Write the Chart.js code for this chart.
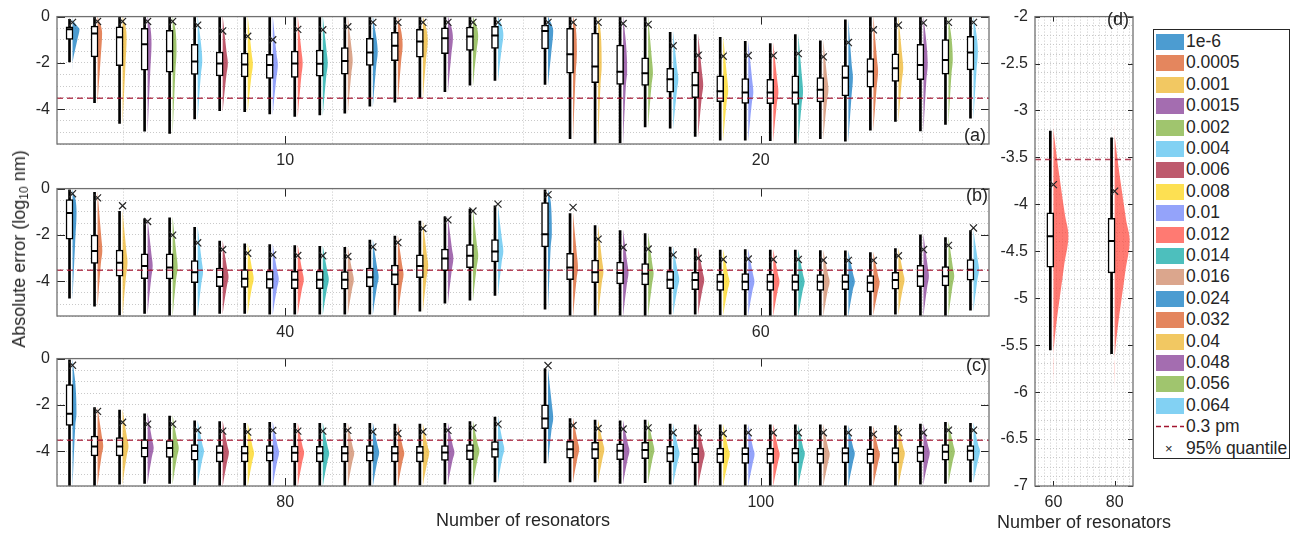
<!DOCTYPE html>
<html>
<head>
<meta charset="utf-8">
<script src="https://cdn.jsdelivr.net/npm/chart.js@4.4.1/dist/chart.umd.min.js"></script>
<style>
html,body{margin:0;padding:0;background:#fff;}
#fig{position:relative;width:1296px;height:533px;overflow:hidden;font-family:'Liberation Sans',Arial,Helvetica,sans-serif;color:#262626;background:#fff;}
#fig canvas{position:absolute;}
.tag{position:absolute;font-size:18px;line-height:18px;white-space:nowrap;z-index:3;}
#ylab{position:absolute;left:19px;top:249px;transform:translate(-50%,-50%) rotate(-90deg);white-space:nowrap;font-size:18px;line-height:20px;z-index:3;}
#ylab sub{font-size:12px;vertical-align:-3px;line-height:0;}
#xlabD{position:absolute;left:1084px;top:522px;transform:translate(-50%,-50%);white-space:nowrap;font-size:18px;line-height:20px;z-index:3;}
#legend{position:absolute;left:1153px;top:29px;width:135px;height:428px;border:1px solid #262626;background:#fff;z-index:4;font-size:17.5px;}
.lrow{position:absolute;left:0;height:21.4px;width:135px;}
.lpatch{position:absolute;left:2px;top:3px;width:28px;height:16px;}
.ltext{position:absolute;left:32px;top:0;line-height:21.4px;white-space:nowrap;}
</style>
</head>
<body>
<div id="fig">
  <canvas id="cA" width="1000" height="170" style="left:0;top:0"></canvas>
  <canvas id="cB" width="1000" height="170" style="left:0;top:172px"></canvas>
  <canvas id="cC" width="1000" height="191" style="left:0;top:342px"></canvas>
  <canvas id="cD" width="200" height="533" style="left:990px;top:0"></canvas>
  <div id="ylab">Absolute error (log<sub>10</sub> nm)</div>
  <div id="xlabD"></div>
  <div class="tag" style="left:964px;top:126px">(a)</div>
  <div class="tag" style="left:966px;top:186px">(b)</div>
  <div class="tag" style="left:966px;top:356px">(c)</div>
  <div class="tag" style="left:1107px;top:10px">(d)</div>
  <div id="legend"></div>
</div>
<script>
// ---------------- DATA ----------------
const sigmaLabels = ['1e-6','0.0005','0.001','0.0015','0.002','0.004','0.006','0.008','0.01','0.012','0.014','0.016','0.024','0.032','0.04','0.048','0.056','0.064'];
const thresholdLabel = '0.3 pm';
const thresholdPm = 0.3;
const quantileLabel = '95% quantile';
const xTitle = 'Number of resonators';

// number of resonators per panel
const nA = [10, 20];
const nB = [40, 60];
const nC = [80, 100];
const nD = [60, 80];
const dSigma = '0.012';

// tick labels
const xTicksA = [10, 20];
const xTicksB = [40, 60];
const xTicksC = [80, 100];
const xTicksD = [60, 80];
const yTicksABC = [0, -2, -4];
const yTicksD = [-2, -2.5, -3, -3.5, -4, -4.5, -5, -5.5, -6, -6.5, -7];

// panel (a) N=10
const a10_q3  = [-0.44,-0.41,-0.44,-0.51,-0.59,-1.20,-1.53,-1.57,-1.63,-1.49,-1.45,-1.34,-0.94,-0.68,-0.55,-0.49,-0.45,-0.42];
const a10_med = [-0.55,-0.73,-0.89,-1.19,-1.50,-1.94,-2.03,-2.07,-2.09,-2.03,-2.04,-1.92,-1.55,-1.26,-1.07,-0.93,-0.86,-0.82];
const a10_q1  = [-0.99,-1.74,-2.12,-2.31,-2.40,-2.50,-2.56,-2.60,-2.67,-2.63,-2.57,-2.49,-2.11,-1.90,-1.75,-1.60,-1.46,-1.37];
const a10_lo  = [-1.96,-3.72,-4.61,-4.95,-5.04,-4.42,-4.06,-4.10,-4.20,-4.31,-4.24,-4.17,-3.87,-3.69,-3.52,-3.24,-2.96,-2.76];
const a10_hi  = [-0.12,0,0,0,0,0,0,0,0,0,0,0,0,0,0,0,0,0];
const a10_p95 = [-0.25,-0.21,-0.21,-0.21,-0.21,-0.37,-0.62,-0.85,-1.00,-0.55,-0.57,-0.44,-0.25,-0.25,-0.25,-0.25,-0.25,-0.25];
// panel (a) N=20
const a20_q3  = [-0.37,-0.51,-0.71,-1.23,-1.78,-2.23,-2.40,-2.56,-2.68,-2.71,-2.56,-2.63,-2.11,-1.81,-1.61,-1.20,-0.99,-0.85];
const a20_med = [-0.62,-1.62,-2.15,-2.38,-2.45,-2.71,-2.96,-3.22,-3.28,-3.28,-3.28,-3.16,-2.64,-2.37,-2.23,-2.09,-1.87,-1.55];
const a20_q1  = [-1.40,-2.44,-2.85,-2.93,-2.97,-3.26,-3.50,-3.67,-3.75,-3.76,-3.79,-3.68,-3.42,-3.05,-2.80,-2.72,-2.48,-2.30];
const a20_lo  = [-2.93,-5.27,-5.50,-5.45,-4.76,-4.82,-5.17,-5.34,-5.34,-5.36,-5.50,-5.27,-5.38,-4.90,-4.52,-4.93,-4.65,-4.38];
const a20_hi  = [0,0,0,0,0,-0.68,-0.78,-0.90,-1.07,-1.16,-0.78,-1.05,-0.14,0,0,0,0,0];
const a20_p95 = [-0.25,-0.25,-0.25,-0.30,-0.34,-1.26,-1.67,-1.71,-1.68,-1.68,-1.60,-1.74,-1.12,-0.57,-0.37,-0.27,-0.25,-0.25];
// panel (b) N=40
const b40_q3  = [-0.47,-2.01,-2.65,-2.82,-2.82,-3.11,-3.43,-3.50,-3.56,-3.57,-3.56,-3.58,-3.43,-3.30,-2.86,-2.61,-2.42,-2.20];
const b40_med = [-1.05,-2.69,-3.20,-3.34,-3.41,-3.61,-3.82,-3.89,-3.91,-3.93,-3.93,-3.93,-3.83,-3.71,-3.34,-3.02,-2.90,-2.72];
const b40_q1  = [-2.18,-3.23,-3.78,-3.89,-3.90,-4.06,-4.23,-4.27,-4.31,-4.32,-4.32,-4.34,-4.24,-4.16,-3.84,-3.54,-3.41,-3.17];
const b40_lo  = [-4.73,-5.08,-5.46,-5.39,-5.50,-5.50,-5.39,-5.39,-5.42,-5.42,-5.42,-5.42,-5.42,-5.46,-5.29,-4.95,-4.82,-4.61];
const b40_hi  = [-0.05,-0.16,-0.98,-1.30,-1.26,-1.67,-2.27,-2.38,-2.42,-2.46,-2.49,-2.54,-2.22,-2.05,-1.40,-1.22,-0.88,-0.74];
const b40_p95 = [-0.22,-0.40,-0.74,-1.42,-2.01,-2.34,-2.63,-2.79,-2.86,-2.89,-2.90,-2.93,-2.52,-2.33,-1.72,-1.35,-0.97,-0.67];
// panel (b) N=60
const b60_q3  = [-0.60,-2.79,-3.09,-3.17,-3.24,-3.57,-3.61,-3.69,-3.67,-3.69,-3.71,-3.71,-3.71,-3.75,-3.61,-3.31,-3.37,-3.06];
const b60_med = [-1.97,-3.41,-3.61,-3.64,-3.68,-3.93,-3.95,-4.02,-4.02,-4.02,-4.02,-4.02,-4.02,-4.06,-3.95,-3.78,-3.78,-3.50];
const b60_q1  = [-2.52,-3.93,-4.06,-4.12,-4.16,-4.32,-4.36,-4.40,-4.39,-4.40,-4.40,-4.40,-4.36,-4.46,-4.34,-4.23,-4.20,-3.95];
const b60_lo  = [-5.21,-5.50,-5.50,-5.50,-5.50,-5.42,-5.42,-5.46,-5.46,-5.50,-5.50,-5.50,-5.50,-5.46,-5.42,-5.50,-5.50,-5.25];
const b60_hi  = [-0.05,-1.08,-1.60,-1.81,-1.94,-2.52,-2.59,-2.65,-2.63,-2.65,-2.65,-2.68,-2.69,-2.76,-2.59,-2.00,-2.11,-1.81];
const b60_p95 = [-0.26,-0.81,-2.18,-2.54,-2.61,-2.86,-3.01,-3.06,-3.04,-3.06,-3.06,-3.09,-3.10,-3.10,-2.90,-2.63,-2.45,-1.70];
// panel (c) N=80
const c80_q3  = [-1.12,-3.34,-3.41,-3.50,-3.54,-3.71,-3.75,-3.78,-3.75,-3.78,-3.79,-3.79,-3.75,-3.79,-3.79,-3.75,-3.71,-3.58];
const c80_med = [-2.38,-3.79,-3.79,-3.86,-3.86,-3.99,-4.06,-4.09,-4.06,-4.06,-4.09,-4.09,-4.06,-4.09,-4.06,-4.05,-3.98,-3.91];
const c80_q1  = [-2.89,-4.20,-4.20,-4.25,-4.27,-4.39,-4.46,-4.46,-4.43,-4.46,-4.46,-4.46,-4.43,-4.46,-4.46,-4.40,-4.36,-4.27];
const c80_lo  = [-5.50,-5.50,-5.42,-5.39,-5.39,-5.46,-5.50,-5.50,-5.50,-5.50,-5.50,-5.50,-5.50,-5.50,-5.46,-5.42,-5.42,-5.32];
const c80_hi  = [-0.05,-2.11,-2.22,-2.38,-2.48,-2.69,-2.72,-2.79,-2.75,-2.79,-2.79,-2.79,-2.79,-2.83,-2.83,-2.79,-2.72,-2.52];
const c80_p95 = [-0.29,-2.28,-2.75,-2.83,-2.83,-3.09,-3.13,-3.17,-3.10,-3.13,-3.13,-3.10,-3.16,-3.23,-3.16,-3.10,-2.99,-2.83];
// panel (c) N=100
const c100_q3  = [-2.00,-3.57,-3.61,-3.68,-3.61,-3.79,-3.84,-3.86,-3.84,-3.86,-3.86,-3.86,-3.84,-3.89,-3.84,-3.78,-3.71,-3.75];
const c100_med = [-2.59,-3.91,-3.91,-3.98,-3.95,-4.09,-4.12,-4.12,-4.12,-4.12,-4.09,-4.12,-4.09,-4.12,-4.09,-4.06,-4.02,-3.98];
const c100_q1  = [-3.02,-4.30,-4.32,-4.36,-4.32,-4.46,-4.50,-4.50,-4.53,-4.53,-4.50,-4.53,-4.50,-4.53,-4.50,-4.46,-4.39,-4.40];
const c100_lo  = [-4.50,-5.32,-5.32,-5.39,-5.36,-5.42,-5.50,-5.50,-5.50,-5.50,-5.50,-5.50,-5.50,-5.50,-5.50,-5.42,-5.39,-5.32];
const c100_hi  = [-0.44,-2.59,-2.65,-2.69,-2.65,-2.83,-2.86,-2.86,-2.86,-2.86,-2.86,-2.86,-2.90,-2.93,-2.89,-2.83,-2.75,-2.79];
const c100_p95 = [-0.30,-2.89,-3.02,-3.04,-2.99,-3.20,-3.20,-3.23,-3.20,-3.20,-3.20,-3.20,-3.20,-3.27,-3.20,-3.20,-3.09,-3.09];
// panel (d), sigma 0.012, N = 60 and 80
const d_q3  = [-4.09, -4.15];
const d_med = [-4.34, -4.39];
const d_q1  = [-4.67, -4.73];
const d_lo  = [-5.55, -5.59];
const d_hi  = [-3.22, -3.29];
const d_p95 = [-3.79, -3.86];

// ---------------- STYLE ----------------
const FONT = "'Liberation Sans', Arial, Helvetica, sans-serif";
const INK = '#262626';
const palette = ['rgba(0,114,189,0.7)','rgba(217,83,25,0.7)','rgba(237,177,32,0.7)','rgba(126,47,142,0.7)','rgba(119,172,48,0.7)','rgba(77,190,238,0.7)',
  'rgba(162,20,47,0.7)','rgba(252,211,8,0.7)','rgba(102,124,248,0.7)','rgba(255,66,54,0.7)','rgba(1,164,161,0.7)','rgba(204,128,92,0.7)',
  'rgba(0,114,189,0.7)','rgba(217,83,25,0.7)','rgba(237,177,32,0.7)','rgba(126,47,142,0.7)','rgba(119,172,48,0.7)','rgba(77,190,238,0.7)'];
const thrColor = 'rgba(162,20,47,0.8)';
Chart.defaults.font.family = FONT;
Chart.defaults.color = INK;

const thrLog = Math.log10(thresholdPm * 1e-3);

function grp(q1, med, q3, lo, hi, p95) { return {q1, med, q3, lo, hi, p95}; }

function boxesForGroups(ns, groups) {
  const slot = (ns[1] - ns[0]) / (sigmaLabels.length + 1);
  const out = [];
  ns.forEach((n, g) => {
    const G = groups[g];
    G.med.forEach((m, s) => {
      const base = n + (s - (G.med.length - 1) / 2) * slot;
      const iqr = G.q3[s] - G.q1[s];
      const frac = Math.min(0.28, Math.max(0.13, 0.21 / Math.sqrt(iqr)));
      out.push({base, shift: 0.12 * slot, vw: frac * slot, color: palette[s],
        q1: G.q1[s], med: m, q3: G.q3[s], lo: G.lo[s], hi: G.hi[s], p95: G.p95[s]});
    });
  });
  return {boxes: out, slot};
}

function makeDatasets(boxes, xlim) {
  const ds = [];
  boxes.forEach(b => {
    const vlo = b.lo - 0.4, vhi = Math.max(b.hi, b.p95) + 0.2;
    const prof = [[vlo,0],[b.lo,0.02],[b.q1,0.7],[b.med,1],[b.q3,0.75],[b.hi,0.02],[vhi,0]];
    ds.push({type:'line', data: prof.map(p => ({x: b.base + p[1] * b.vw, y: p[0]})),
      fill:'shape', backgroundColor:b.color, borderColor:'rgba(0,0,0,0)', borderWidth:0,
      pointRadius:0, tension:0.35, order:5});
  });
  ds.push({type:'bar', data: boxes.map(b => ({x: b.base - b.shift, y: [b.lo, b.hi]})),
    backgroundColor:'#000', borderWidth:0, barThickness:2, grouped:false, order:4});
  ds.push({type:'bar', data: boxes.map(b => ({x: b.base - b.shift, y: [b.q1, b.q3]})),
    backgroundColor:'#fff', borderColor:'#000', borderWidth:1.5, borderSkipped:false,
    barThickness:7, grouped:false, order:3});
  ds.push({type:'line', showLine:false, data: boxes.map(b => ({x: b.base - b.shift, y: b.med})),
    pointStyle:'line', pointRadius:3.5, pointBorderWidth:2, pointBorderColor:'#000', borderColor:'#000', order:1});
  ds.push({type:'line', data:[{x:xlim[0], y:thrLog},{x:xlim[1], y:thrLog}], borderColor:thrColor,
    borderWidth:1.4, borderDash:[6,4], pointRadius:0, fill:false, order:0.5});
  ds.push({type:'line', showLine:false, data: boxes.map(b => ({x: b.base, y: b.p95})),
    pointStyle:'crossRot', pointRadius:5, pointBorderWidth:1.2, pointBorderColor:INK, borderColor:INK, order:0});
  return ds;
}

const framePlugin = {
  id:'frame',
  afterDraw(chart, args, o) {
    const {ctx, chartArea:a, scales} = chart;
    ctx.save();
    ctx.strokeStyle = INK; ctx.lineWidth = 1;
    const L = (x1,y1,x2,y2) => { ctx.beginPath(); ctx.moveTo(x1,y1); ctx.lineTo(x2,y2); ctx.stroke(); };
    o.xTicks.forEach(v => { const p = Math.round(scales.x.getPixelForValue(v)) + 0.5;
      L(p, a.bottom, p, a.bottom - o.tl); L(p, a.top, p, a.top + o.tl); });
    o.yTicks.forEach(v => { const p = Math.round(scales.y.getPixelForValue(v)) + 0.5;
      L(a.left, p, a.left + o.tl, p); L(a.right, p, a.right - o.tl, p); });
    ctx.strokeStyle = '#707070'; ctx.lineWidth = 1.3;
    ctx.strokeRect(a.left, a.top, a.right - a.left, a.bottom - a.top);
    ctx.restore();
  }
};

function has(arr, v) { return arr.some(t => Math.abs(t - v) < 1e-6); }

function makeChart(id, cfg) {
  const gridOpts = {color:'#c9c9c9', lineWidth:1, drawTicks:false};
  return new Chart(document.getElementById(id), {
    type:'bar',
    data:{datasets: makeDatasets(cfg.boxes, cfg.xlim)},
    options:{
      responsive:false, devicePixelRatio:1, animation:false, events:[],
      layout:{padding:{left:0, right:cfg.padR, top:10, bottom:0}},
      plugins:{legend:{display:false}, tooltip:{enabled:false},
        frame:{xTicks:cfg.xTicks, yTicks:cfg.yTicks, tl:cfg.tl}},
      scales:{
        x:{type:'linear', min:cfg.xlim[0], max:cfg.xlim[1], offset:false,
          afterFit:s => { s.height = cfg.xH; },
          grid:gridOpts, border:{display:false, dash:[1,2]},
          ticks:{stepSize:cfg.xStep, autoSkip:false, maxRotation:0, minRotation:0, padding:7,
            font:{size:16, family:FONT}, color:INK,
            callback:v => has(cfg.xTicks, v) ? String(Math.round(v)) : ''},
          title:{display:!!cfg.title, text:cfg.title || '', font:{size:18, family:FONT}, color:INK, padding:{top:0, bottom:1}}
        },
        y:{type:'linear', min:cfg.ylim[0], max:cfg.ylim[1],
          afterFit:s => { s.width = cfg.yW; },
          grid:gridOpts, border:{display:false, dash:[1,2]},
          ticks:{stepSize:cfg.yStep, autoSkip:false, padding:7,
            font:{size:16, family:FONT}, color:INK,
            callback:v => has(cfg.yTicks, v) ? String(+v.toFixed(2)) : ''}
        }
      }
    },
    plugins:[framePlugin]
  });
}

function panelABC(id, ns, groups, xTicks, title, xH, stepUnits) {
  const {boxes, slot} = boxesForGroups(ns, groups);
  const m = 9.12 * slot;
  makeChart(id, {boxes, xlim:[ns[0] - m, ns[1] + m], xStep:stepUnits, xTicks,
    ylim:[-5.5, 0], yStep:0.5, yTicks:yTicksABC, yW:57, padR:11, xH, title, tl:8});
}

panelABC('cA', nA, [grp(a10_q1,a10_med,a10_q3,a10_lo,a10_hi,a10_p95), grp(a20_q1,a20_med,a20_q3,a20_lo,a20_hi,a20_p95)], xTicksA, null, 26, 2);
panelABC('cB', nB, [grp(b40_q1,b40_med,b40_q3,b40_lo,b40_hi,b40_p95), grp(b60_q1,b60_med,b60_q3,b60_lo,b60_hi,b60_p95)], xTicksB, null, 26, 4);
panelABC('cC', nC, [grp(c80_q1,c80_med,c80_q3,c80_lo,c80_hi,c80_p95), grp(c100_q1,c100_med,c100_q3,c100_lo,c100_hi,c100_p95)], xTicksC, xTitle, 47, 4);

const dColor = palette[sigmaLabels.indexOf(dSigma)];
const boxesD = nD.map((n, i) => ({base:n, shift:1.0, vw:4.9, color:dColor,
  q1:d_q1[i], med:d_med[i], q3:d_q3[i], lo:d_lo[i], hi:d_hi[i], p95:d_p95[i]}));
makeChart('cD', {boxes:boxesD, xlim:[54, 86], xStep:2, xTicks:xTicksD,
  ylim:[-7, -2], yStep:0.1, yTicks:yTicksD, yW:45, padR:57, xH:47, title:null, tl:5});
document.getElementById('xlabD').textContent = xTitle;

// ---------------- LEGEND ----------------
const leg = document.getElementById('legend');
const rowH = 21.4;
function addRow(i, symbolHtml, text) {
  const r = document.createElement('div');
  r.className = 'lrow'; r.style.top = (1 + i * rowH) + 'px';
  r.innerHTML = symbolHtml + '<span class="ltext">' + text + '</span>';
  leg.appendChild(r);
}
sigmaLabels.forEach((lab, i) => addRow(i, '<span class="lpatch" style="background:' + palette[i] + '"></span>', lab));
addRow(sigmaLabels.length, '<svg style="position:absolute;left:2px;top:0" width="28" height="21"><line x1="0" y1="10.5" x2="28" y2="10.5" stroke="#A2142F" stroke-width="1.3" stroke-dasharray="5,3"/></svg>', thresholdLabel);
addRow(sigmaLabels.length + 1, '<span style="position:absolute;left:11px;top:0;line-height:21px;font-size:13px;">×</span>', quantileLabel);
</script>
</body>
</html>
